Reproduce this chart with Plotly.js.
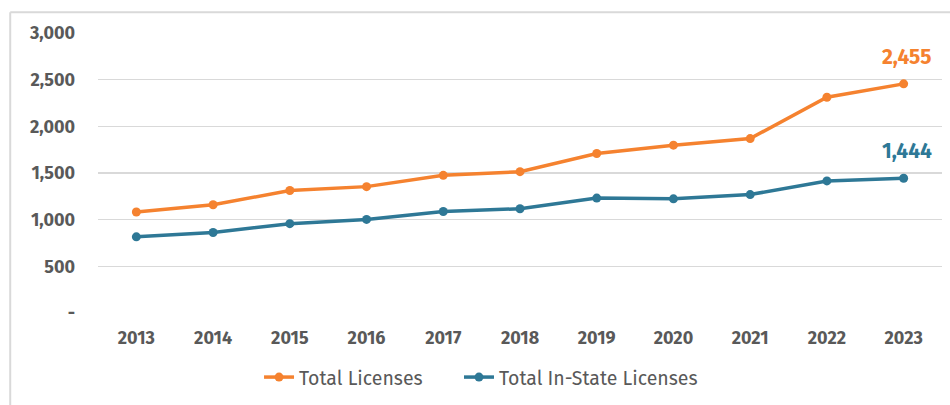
<!DOCTYPE html>
<html>
<head>
<meta charset="utf-8">
<script src="https://cdn.plot.ly/plotly-3.0.1.min.js"></script>
<style>
html,body{margin:0;padding:0;background:#fff;}
#chart{width:950px;height:405px;}
</style>
</head>
<body>
<div id="chart"></div>
<script>
const years = ['2013','2014','2015','2016','2017','2018','2019','2020','2021','2022','2023'];
const totalLicenses = [1082, 1160, 1312, 1354, 1475, 1514, 1709, 1798, 1869, 2312, 2455];
const inStateLicenses = [816, 862, 957, 1003, 1088, 1117, 1231, 1223, 1269, 1415, 1444];
const yTickVals = [0, 500, 1000, 1500, 2000, 2500, 3000];
const yTickText = ['-', '500', '1,000', '1,500', '2,000', '2,500', '3,000'];

const orange = '#F5822F';
const blue = '#2E7896';
const font = '"Fira Sans", "Open Sans", "Noto Sans", sans-serif';

const traces = [
  {x: years, y: totalLicenses, name: 'Total Licenses', type: 'scatter', mode: 'lines+markers',
   line: {color: orange, width: 3.5}, marker: {color: orange, size: 9}, legend: 'legend'},
  {x: years, y: inStateLicenses, name: 'Total In-State Licenses', type: 'scatter', mode: 'lines+markers',
   line: {color: blue, width: 3.5}, marker: {color: blue, size: 9}, legend: 'legend2'}
];

function fmt(v) { return String(v).replace(/\B(?=(\d{3})+(?!\d))/g, ','); }

const legendStyle = {orientation: 'h', xanchor: 'left', y: -0.23, yanchor: 'middle',
                     font: {size: 19.5, color: '#595959'}, bgcolor: 'rgba(0,0,0,0)'};

const last = years.length - 1;
const layout = {
  width: 950, height: 405,
  margin: {l: 98, r: 8, t: 33, b: 90},
  paper_bgcolor: '#fff', plot_bgcolor: '#fff',
  font: {family: font, color: '#595959'},
  showlegend: true,
  legend: Object.assign({}, legendStyle, {x: 0.1908}),
  legend2: Object.assign({}, legendStyle, {x: 0.4277}),
  xaxis: {type: 'category', range: [-0.5, 10.5], showgrid: false, zeroline: false, showline: false,
          ticks: '', ticklabelstandoff: 12,
          tickfont: {size: 18, color: '#595959', weight: 'bold'}},
  yaxis: {range: [0, 3000], tickvals: yTickVals, ticktext: yTickText, showgrid: true,
          gridcolor: '#d9d9d9', gridwidth: 1.5, zeroline: false, showline: false, ticks: '',
          ticklabelstandoff: 22, tickfont: {size: 18, color: '#595959', weight: 'bold'}},
  annotations: [
    {xref: 'x', yref: 'y', x: last, y: totalLicenses[last], text: '<b>' + fmt(totalLicenses[last]) + '</b>',
     showarrow: false, yanchor: 'bottom', yshift: 12, xshift: 3,
     font: {size: 21, color: orange, family: font}},
    {xref: 'x', yref: 'y', x: last, y: inStateLicenses[last], text: '<b>' + fmt(inStateLicenses[last]) + '</b>',
     showarrow: false, yanchor: 'bottom', yshift: 12, xshift: 3,
     font: {size: 21, color: blue, family: font}}
  ],
  shapes: [
    {type: 'line', xref: 'paper', yref: 'paper', x0: -0.104, x1: 1.02, y0: 1.074, y1: 1.074,
     line: {color: '#d9d9d9', width: 2}},
    {type: 'line', xref: 'paper', yref: 'paper', x0: -0.104, x1: -0.104, y0: 1.074, y1: -0.33,
     line: {color: '#d9d9d9', width: 2}}
  ]
};

Plotly.newPlot('chart', traces, layout, {displayModeBar: false, staticPlot: true});
</script>
</body>
</html>
